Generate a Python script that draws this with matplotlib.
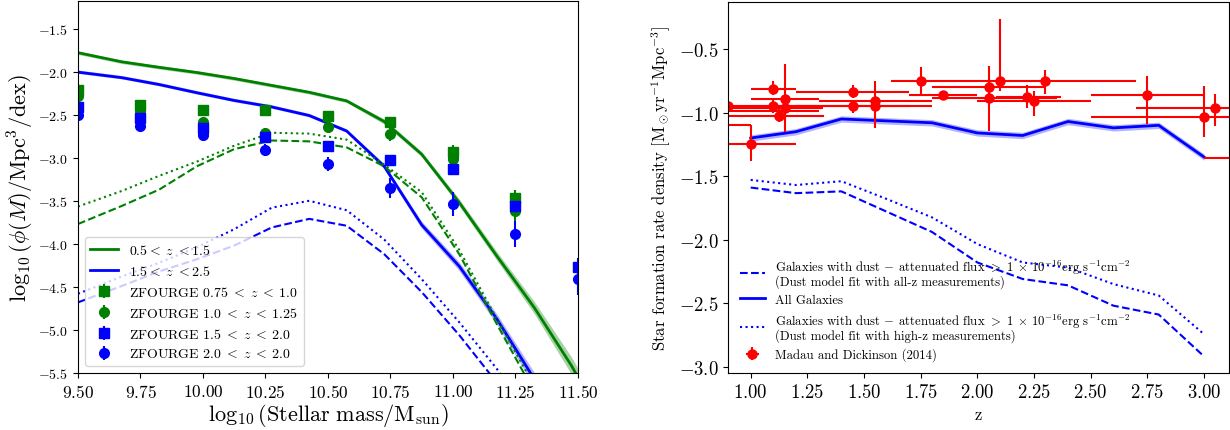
import matplotlib

matplotlib.use("Agg")
import matplotlib.pyplot as plt
import numpy as np
from matplotlib.ticker import FuncFormatter

plt.rcParams["font.family"] = "serif"
plt.rcParams["font.serif"] = ["cmr10"]
plt.rcParams["mathtext.fontset"] = "cm"
plt.rcParams["axes.formatter.use_mathtext"] = True

# ---- left panel: stellar mass function ----
mass_nodes = [9.5, 9.675, 9.825, 9.975, 10.125, 10.275, 10.425, 10.575,
              10.725, 10.875, 11.025, 11.175, 11.325, 11.475, 11.625]
low_z_all = [-1.78, -1.886, -1.95, -2.01, -2.08, -2.16, -2.24, -2.34,
             -2.58, -2.96, -3.52, -4.14, -4.74, -5.42, -6.2]
low_z_band = [0.02, 0.02, 0.02, 0.02, 0.02, 0.02, 0.02, 0.02,
              0.03, 0.03, 0.04, 0.05, 0.07, 0.1, 0.12]
high_z_all = [-2.006, -2.07, -2.15, -2.245, -2.335, -2.41, -2.51, -2.69,
              -3.10, -3.78, -4.26, -4.87, -5.57, -6.3, -7.0]
high_z_band = [0.02, 0.02, 0.02, 0.02, 0.02, 0.02, 0.02, 0.02,
               0.03, 0.04, 0.05, 0.06, 0.08, 0.1, 0.12]
low_z_highz_fit = [-3.567, -3.386, -3.21, -3.046, -2.86, -2.71, -2.72, -2.79,
                   -3.08, -3.40, -4.07, -4.87, -5.65, -6.4, -7.2]
low_z_allz_fit = [-3.77, -3.56, -3.37, -3.10, -2.90, -2.80, -2.81, -2.88,
                  -3.10, -3.46, -4.12, -4.93, -5.72, -6.5, -7.3]
high_z_highz_fit = [-4.58, -4.38, -4.22, -4.04, -3.83, -3.58, -3.50, -3.61,
                    -3.95, -4.41, -4.91, -5.45, -6.1, -6.8, -7.5]
high_z_allz_fit = [-4.68, -4.49, -4.32, -4.18, -4.02, -3.81, -3.71, -3.79,
                   -4.12, -4.56, -5.06, -5.61, -6.2, -6.9, -7.6]

zf_mass = [9.5, 9.75, 10.0, 10.25, 10.5, 10.75, 11.0, 11.25, 11.5]
zf_a = [-2.215, -2.39, -2.45, -2.45, -2.52, -2.59, -2.93, -3.47, np.nan]
zf_a_err = [0.06, 0.05, 0.05, 0.05, 0.05, 0.06, 0.08, 0.1, 0.1]
zf_b = [-2.285, -2.46, -2.59, -2.71, -2.64, -2.72, -3.01, -3.62, np.nan]
zf_b_err = [0.05, 0.05, 0.05, 0.05, 0.05, 0.08, 0.06, 0.12, 0.1]
zf_c = [-2.41, -2.535, -2.66, -2.76, -2.86, -3.03, -3.13, -3.56, -4.27]
zf_c_err = [0.05, 0.05, 0.05, 0.05, 0.05, 0.06, 0.07, 0.08, 0.1]
zf_d = [-2.505, -2.63, -2.74, -2.91, -3.07, -3.35, -3.54, -3.89, -4.41]
zf_d_err = [0.04, 0.04, 0.06, 0.07, 0.08, 0.12, 0.14, 0.15, 0.18]

# ---- right panel: star formation rate density ----
z_nodes = [1.0, 1.2, 1.4, 1.6, 1.8, 2.0, 2.2, 2.4, 2.6, 2.8, 3.0]
sfrd_all = [-1.20, -1.15, -1.05, -1.065, -1.08, -1.16, -1.18, -1.07, -1.12, -1.10, -1.35]
sfrd_band = 0.025
sfrd_allz = [-1.59, -1.634, -1.62, -1.78, -1.94, -2.18, -2.31, -2.36, -2.52, -2.59, -2.92]
sfrd_highz = [-1.53, -1.57, -1.54, -1.68, -1.825, -2.035, -2.18, -2.22, -2.35, -2.44, -2.745]

md_z = [0.90, 0.80, 0.80, 1.00, 1.10, 1.10, 1.125, 1.15, 1.15, 1.45, 1.45, 1.55, 1.55,
        1.75, 1.85, 2.05, 2.05, 2.10, 2.22, 2.25, 2.30, 2.75, 3.00, 3.05, 3.50]
md_sfrd = [-0.95, -0.99, -1.10, -1.25, -0.81, -0.946, -1.025, -0.89, -0.96, -0.836, -0.951,
           -0.91, -0.946, -0.75, -0.86, -0.80, -0.888, -0.75, -0.873, -0.907, -0.75, -0.86,
           -1.038, -0.967, -1.36]
md_z_lo = [0.40, 0.50, 0.20, 0.20, 0.10, 0.10, 0.25, 0.15, 0.25, 0.25, 0.15, 0.25, 0.35,
           0.13, 0.15, 0.25, 0.25, 0.0, 0.14, 0.25, 0.40, 0.25, 0.50, 0.35, 0.50]
md_z_hi = [0.40, 0.50, 0.20, 0.20, 0.10, 0.20, 0.20, 0.15, 0.17, 0.25, 0.35, 0.25, 0.15,
           0.15, 0.15, 0.25, 0.30, 0.0, 0.15, 0.25, 0.40, 0.25, 0.50, 0.35, 0.50]
md_s_lo = [0.05, 0.05, 0.05, 0.13, 0.05, 0.06, 0.05, 0.26, 0.05, 0.05, 0.05, 0.21, 0.05,
           0.11, 0.03, 0.05, 0.255, 0.078, 0.09, 0.12, 0.104, 0.23, 0.15, 0.14, 0.1]
md_s_hi = [0.05, 0.05, 0.05, 0.15, 0.06, 0.06, 0.05, 0.27, 0.05, 0.05, 0.05, 0.16, 0.05,
           0.11, 0.03, 0.17, 0.09, 0.486, 0.09, 0.08, 0.085, 0.15, 0.25, 0.11, 0.1]


def _math_fmt(digits):
    return FuncFormatter(lambda v, pos: f"${v:.{digits}f}$")


fig = plt.figure(figsize=(12.3, 4.31), dpi=100)
ax1 = fig.add_axes([0.0634, 0.1323, 0.4065, 0.863])
ax2 = fig.add_axes([0.5919, 0.1323, 0.4073, 0.861])

m = np.array(mass_nodes)
ax1.fill_between(m, np.array(low_z_all) - low_z_band, np.array(low_z_all) + low_z_band,
                 color="green", alpha=0.35, lw=0)
ax1.fill_between(m, np.array(high_z_all) - high_z_band, np.array(high_z_all) + high_z_band,
                 color="blue", alpha=0.3, lw=0)
ax1.plot(m, low_z_all, color="green", lw=2, label=r"0.5$<\;z\;<$1.5")
ax1.plot(m, high_z_all, color="blue", lw=2, label=r"1.5$<\;z\;<$2.5")
ax1.plot(m, low_z_highz_fit, color="green", lw=1.5, ls=":")
ax1.plot(m, low_z_allz_fit, color="green", lw=1.5, ls="--")
ax1.plot(m, high_z_highz_fit, color="blue", lw=1.5, ls=":")
ax1.plot(m, high_z_allz_fit, color="blue", lw=1.5, ls="--")

ax1.errorbar(zf_mass, zf_a, yerr=zf_a_err, fmt="s", color="green", ms=7,
             label=r"ZFOURGE 0.75$\;<\;z\;<\;$1.0")
ax1.errorbar(zf_mass, zf_b, yerr=zf_b_err, fmt="o", color="green", ms=7,
             label=r"ZFOURGE 1.0$\;<\;z\;<\;$1.25")
ax1.errorbar(zf_mass, zf_c, yerr=zf_c_err, fmt="s", color="blue", ms=7,
             label=r"ZFOURGE 1.5$\;<\;z\;<\;$2.0")
ax1.errorbar(zf_mass, zf_d, yerr=zf_d_err, fmt="o", color="blue", ms=7,
             label=r"ZFOURGE 2.0$\;<\;z\;<\;$2.0")

ax1.set_xlim(9.5, 11.5)
ax1.set_ylim(-5.5, -1.18)
ax1.set_xticks([9.5, 9.75, 10.0, 10.25, 10.5, 10.75, 11.0, 11.25, 11.5])
ax1.set_yticks([-5.5, -5.0, -4.5, -4.0, -3.5, -3.0, -2.5, -2.0, -1.5])
ax1.xaxis.set_major_formatter(_math_fmt(2))
ax1.yaxis.set_major_formatter(_math_fmt(1))
ax1.tick_params(axis="x", labelsize=12.5)
ax1.tick_params(axis="y", labelsize=10)
ax1.set_xlabel(r"$\log_{10}(\mathrm{Stellar\ mass}/\mathrm{M_{sun}})$", fontsize=16, labelpad=1)
ax1.set_ylabel(r"$\log_{10}(\phi(M)/\mathrm{Mpc}^3/\mathrm{dex})$", fontsize=16, labelpad=2)
ax1.legend(loc="lower left", fontsize=10)

z = np.array(z_nodes)
flux_label = r"Galaxies with dust $-$ attenuated flux $>$ 1 $\times$ 10$^{-16}$erg s$^{-1}$cm$^{-2}$"
ax2.plot(z, sfrd_allz, color="blue", lw=1.5, ls="--",
         label=flux_label + "\n(Dust model fit with all-z measurements)")
ax2.fill_between(z, np.array(sfrd_all) - sfrd_band, np.array(sfrd_all) + sfrd_band,
                 color="blue", alpha=0.3, lw=0)
ax2.plot(z, sfrd_all, color="blue", lw=2, label="All Galaxies")
ax2.plot(z, sfrd_highz, color="blue", lw=1.5, ls=":",
         label=flux_label + "\n(Dust model fit with high-z measurements)")
ax2.errorbar(md_z, md_sfrd, xerr=[md_z_lo, md_z_hi], yerr=[md_s_lo, md_s_hi],
             fmt="o", color="red", ms=6.5, elinewidth=1.5,
             label="Madau and Dickinson (2014)")

ax2.set_xlim(0.9, 3.11)
ax2.set_ylim(-3.05, -0.128)
ax2.set_xticks([1.0, 1.25, 1.5, 1.75, 2.0, 2.25, 2.5, 2.75, 3.0])
ax2.set_yticks([-3.0, -2.5, -2.0, -1.5, -1.0, -0.5])
ax2.xaxis.set_major_formatter(_math_fmt(2))
ax2.yaxis.set_major_formatter(_math_fmt(1))
ax2.tick_params(labelsize=13.5)
ax2.set_xlabel("z", fontsize=12)
ax2.set_ylabel(r"Star formation rate density [M$_\odot$yr$^{-1}$Mpc$^{-3}$]", fontsize=12)
leg = ax2.legend(loc="lower left", fontsize=9.2, frameon=False, labelspacing=0.45)
for t in leg.get_texts():
    t.set_linespacing(0.85)

fig.savefig("out.png", dpi=100)
